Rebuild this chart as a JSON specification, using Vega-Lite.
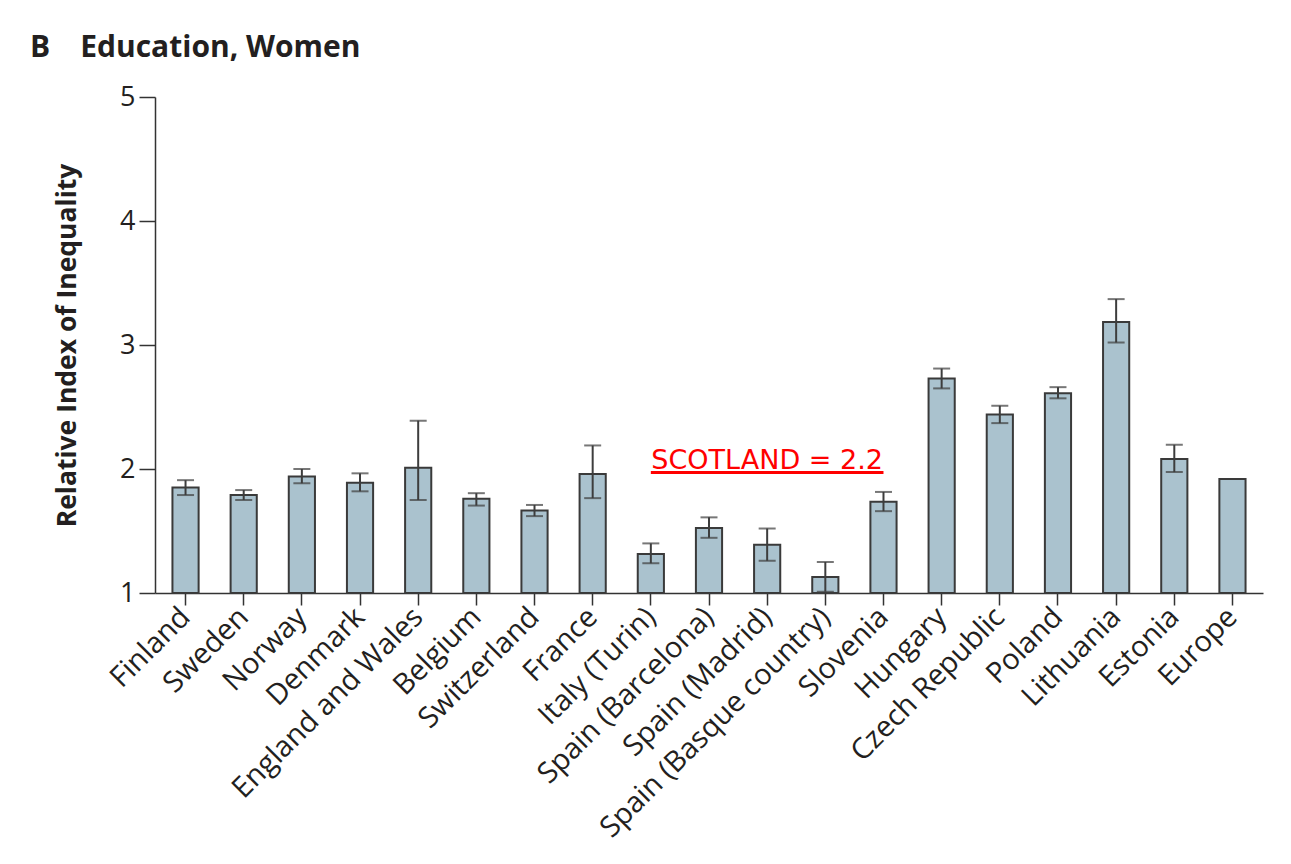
{
  "$schema": "https://vega.github.io/schema/vega-lite/v6.json",
  "autosize": "none",
  "width": 1108,
  "height": 496,
  "padding": {"left": 155, "top": 97, "right": 28, "bottom": 271},
  "background": "white",
  "title": {
    "text": "B\u2003Education, Women",
    "anchor": "start",
    "frame": "group",
    "dx": -125,
    "font": "Open Sans",
    "fontSize": 30,
    "fontWeight": "bold",
    "color": "#231f20",
    "offset": 20
  },
  "data": {
    "values": [
      {"country": "Finland", "rii": 1.85, "lo": 1.79, "hi": 1.91},
      {"country": "Sweden", "rii": 1.79, "lo": 1.75, "hi": 1.83},
      {"country": "Norway", "rii": 1.94, "lo": 1.885, "hi": 2.0},
      {"country": "Denmark", "rii": 1.89, "lo": 1.82, "hi": 1.965},
      {"country": "England and Wales", "rii": 2.01, "lo": 1.75, "hi": 2.39},
      {"country": "Belgium", "rii": 1.76, "lo": 1.705, "hi": 1.805},
      {"country": "Switzerland", "rii": 1.665, "lo": 1.62, "hi": 1.71},
      {"country": "France", "rii": 1.96, "lo": 1.765, "hi": 2.19},
      {"country": "Italy (Turin)", "rii": 1.315, "lo": 1.24, "hi": 1.4},
      {"country": "Spain (Barcelona)", "rii": 1.525, "lo": 1.445, "hi": 1.61},
      {"country": "Spain (Madrid)", "rii": 1.39, "lo": 1.26, "hi": 1.52},
      {"country": "Spain (Basque country)", "rii": 1.13, "lo": 1.01, "hi": 1.25},
      {"country": "Slovenia", "rii": 1.735, "lo": 1.66, "hi": 1.815},
      {"country": "Hungary", "rii": 2.73, "lo": 2.65, "hi": 2.81},
      {"country": "Czech Republic", "rii": 2.44, "lo": 2.37, "hi": 2.51},
      {"country": "Poland", "rii": 2.61, "lo": 2.57, "hi": 2.66},
      {"country": "Lithuania", "rii": 3.185, "lo": 3.02, "hi": 3.37},
      {"country": "Estonia", "rii": 2.08, "lo": 1.975, "hi": 2.195},
      {"country": "Europe", "rii": 1.92, "lo": null, "hi": null}
    ]
  },
  "encoding": {
    "x": {
      "field": "country",
      "type": "nominal",
      "sort": null,
      "scale": {"paddingInner": 0.55, "paddingOuter": 0.3},
      "axis": {
        "title": null,
        "labelAngle": -45,
        "labelAlign": "right",
        "labelBaseline": "middle",
        "labelFont": "Open Sans",
        "labelFontSize": 29,
        "labelLimit": 0,
        "labelColor": "#231f20",
        "labelPadding": 7,
        "tickSize": 12,
        "tickColor": "#333333",
        "tickWidth": 1.5,
        "domainColor": "#333333",
        "domainWidth": 1.5
      }
    }
  },
  "layer": [
    {
      "mark": {"type": "bar", "fill": "#aac2ce", "stroke": "#3a3a3a", "strokeWidth": 2},
      "encoding": {
        "y": {
          "field": "rii",
          "type": "quantitative",
          "scale": {"domain": [1, 5], "zero": false, "nice": false},
          "axis": {
            "title": "Relative Index of Inequality",
            "titleFont": "Open Sans",
            "titleFontSize": 26.5,
            "titleFontWeight": "bold",
            "titleColor": "#231f20",
            "titlePadding": 38,
            "values": [1, 2, 3, 4, 5],
            "format": "d",
            "labelFont": "Open Sans",
            "labelFontSize": 27,
            "labelColor": "#231f20",
            "labelPadding": 4,
            "tickSize": 16,
            "tickColor": "#333333",
            "tickWidth": 1.5,
            "domainColor": "#333333",
            "domainWidth": 1.5,
            "grid": false
          }
        },
        "y2": {"datum": 1}
      }
    },
    {
      "mark": {"type": "rule", "stroke": "#3d3d3d", "strokeWidth": 2},
      "encoding": {
        "y": {"field": "lo", "type": "quantitative"},
        "y2": {"field": "hi"}
      }
    },
    {
      "mark": {"type": "tick", "color": "#3d3d3d", "size": 17, "thickness": 2},
      "encoding": {"y": {"field": "lo", "type": "quantitative"}}
    },
    {
      "mark": {"type": "tick", "color": "#3d3d3d", "size": 17, "thickness": 2},
      "encoding": {"y": {"field": "hi", "type": "quantitative"}}
    },
    {
      "data": {"values": [{"note": "SCOTLAND = 2.2", "at": "Spain (Madrid)", "from": "Italy (Turin)", "to": "Slovenia"}]},
      "layer": [
        {
          "mark": {"type": "text", "font": "DejaVu Sans", "fontSize": 27, "color": "#ff0000", "baseline": "alphabetic", "align": "center"},
          "encoding": {
            "x": {"field": "at", "type": "nominal"},
            "y": {"datum": 2.0},
            "text": {"field": "note"}
          }
        },
        {
          "mark": {"type": "rule", "stroke": "#ff0000", "strokeWidth": 3},
          "encoding": {
            "x": {"field": "from", "type": "nominal"},
            "x2": {"field": "to"},
            "y": {"datum": 1.972}
          }
        }
      ]
    }
  ],
  "config": {"view": {"stroke": null}}
}
